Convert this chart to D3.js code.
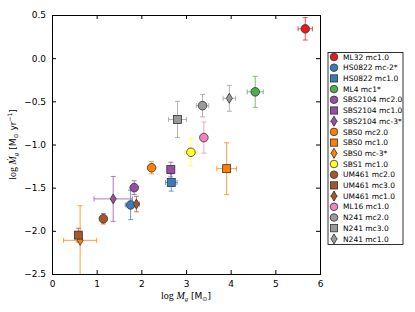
<!DOCTYPE html>
<html>
<head>
<meta charset="utf-8">
<script src="https://cdn.jsdelivr.net/npm/d3@7"></script>
<style>
  body { margin: 0; background: #fff; }
  text { font-family: "DejaVu Sans", sans-serif; }
  .axis-title { font-family: "Liberation Serif", serif; font-size: 10px; }
</style>
</head>
<body>
<svg id="chart"></svg>
<script>
// Data (log Mg, log Mdot) with symmetric errors
const labels = ['ML32 mc1.0', 'HS0822 mc-2*', 'HS0822 mc1.0', 'ML4 mc1*', 'SBS2104 mc2.0',
  'SBS2104 mc1.0', 'SBS2104 mc-3*', 'SBS0 mc2.0', 'SBS0 mc1.0', 'SBS0 mc-3*', 'SBS1 mc1.0',
  'UM461 mc2.0', 'UM461 mc3.0', 'UM461 mc1.0', 'ML16 mc1.0', 'N241 mc2.0', 'N241 mc3.0', 'N241 mc1.0'];
const logMg   = [5.67, 1.76, 2.67, 4.55, 1.84, 2.66, 1.37, 2.23, 3.91, 0.63, 3.11, 1.15, 0.59, 1.89, 3.40, 3.37, 2.81, 3.97];
const logMdot = [0.34, -1.70, -1.44, -0.39, -1.50, -1.29, -1.63, -1.27, -1.28, -2.11, -1.09, -1.86, -2.05, -1.69, -0.92, -0.55, -0.71, -0.465];
const xErr    = [0.16, 0.12, 0.13, 0.18, 0.05, 0.05, 0.43, 0.05, 0.22, 0.37, 0.14, 0.04, 0.04, 0.07, 0.05, 0.14, 0.20, 0.14];
const yErr    = [0.13, 0.17, 0.10, 0.18, 0.08, 0.085, 0.26, 0.07, 0.30, 0.40, 0.16, 0.06, 0.08, 0.09, 0.18, 0.13, 0.21, 0.15];
const xTicks = [0, 1, 2, 3, 4, 5, 6];
const yTicks = [-2.5, -2.0, -1.5, -1.0, -0.5, 0.0, 0.5];

// styles
const galaxyColor = {ML32: '#e41a1c', HS0822: '#377eb8', ML4: '#4daf4a', SBS2104: '#984ea3',
  SBS0: '#ff7f00', SBS1: '#ffff33', UM461: '#a65628', ML16: '#f781bf', N241: '#999999'};
const shapes = ['circle', 'circle', 'square', 'circle', 'circle', 'square', 'diamond', 'circle', 'square',
  'diamond', 'circle', 'circle', 'square', 'diamond', 'circle', 'circle', 'square', 'diamond'];

const data = labels.map((l, i) => ({
  label: l, x: logMg[i], y: logMdot[i], xe: xErr[i], ye: yErr[i],
  color: galaxyColor[l.split(' ')[0]], shape: shapes[i]
}));

const W = 415, H = 312;
const margin = {top: 15, right: 95, bottom: 38, left: 52};
const width = W - margin.left - margin.right;
const height = H - margin.top - margin.bottom;

const svg = d3.select('#chart').attr('width', W).attr('height', H);

svg.append('defs').append('clipPath').attr('id', 'clip')
  .append('rect').attr('width', width).attr('height', height);

const chart = svg.append('g').attr('transform', `translate(${margin.left},${margin.top})`);

const x = d3.scaleLinear().domain([0, 6]).range([0, width]);
const y = d3.scaleLinear().domain([-2.5, 0.5]).range([height, 0]);

const fmt = d => d3.format('.1f')(d).replace('-', '\u2212');

// axes, ticks pointing inward on all sides
const tick = 4;
chart.append('g').attr('transform', `translate(0,${height})`)
  .call(d3.axisBottom(x).tickValues(xTicks).tickFormat(d3.format('d')).tickSize(-tick).tickPadding(7));
chart.append('g')
  .call(d3.axisTop(x).tickValues(xTicks).tickFormat('').tickSize(-tick));
chart.append('g')
  .call(d3.axisLeft(y).tickValues(yTicks).tickFormat(fmt).tickSize(-tick).tickPadding(6));
chart.append('g').attr('transform', `translate(${width},0)`)
  .call(d3.axisRight(y).tickValues(yTicks).tickFormat('').tickSize(-tick));

chart.selectAll('.domain').attr('stroke', '#000');
chart.selectAll('.tick line').attr('stroke', '#000');
chart.selectAll('.tick text').attr('font-size', 9).attr('fill', '#000')
  .attr('font-family', '"DejaVu Sans", sans-serif');

// error bars
const eb = chart.append('g').attr('clip-path', 'url(#clip)');
const cap = 2.5;
data.forEach(d => {
  const g = eb.append('g').attr('stroke', d.color).attr('stroke-opacity', 0.75).attr('stroke-width', 1);
  const cx = x(d.x), cy = y(d.y);
  const x0 = x(d.x - d.xe), x1 = x(d.x + d.xe);
  const y0 = y(d.y - d.ye), y1 = y(d.y + d.ye);
  g.append('line').attr('x1', x0).attr('x2', x1).attr('y1', cy).attr('y2', cy);
  g.append('line').attr('x1', cx).attr('x2', cx).attr('y1', y0).attr('y2', y1);
  [x0, x1].forEach(v => g.append('line').attr('x1', v).attr('x2', v).attr('y1', cy - cap).attr('y2', cy + cap));
  [y0, y1].forEach(v => g.append('line').attr('x1', cx - cap).attr('x2', cx + cap).attr('y1', v).attr('y2', v));
});

function drawMarker(sel, shape, color) {
  if (shape === 'circle') {
    sel.append('circle').attr('r', 4.3);
  } else if (shape === 'square') {
    sel.append('rect').attr('x', -4).attr('y', -4).attr('width', 8).attr('height', 8);
  } else {
    sel.append('path').attr('d', 'M0,-5L3,0L0,5L-3,0Z');
  }
  sel.selectAll('*').attr('fill', color).attr('stroke', '#333').attr('stroke-width', 0.8);
}

const marks = chart.append('g');
data.forEach(d => {
  const g = marks.append('g').attr('transform', `translate(${x(d.x)},${y(d.y)})`);
  drawMarker(g, d.shape, d.color);
});

// axis titles
const xt = chart.append('text').attr('class', 'axis-title')
  .attr('x', width / 2).attr('y', height + 25).attr('text-anchor', 'middle');
xt.append('tspan').text('log ');
xt.append('tspan').attr('font-style', 'italic').text('M');
xt.append('tspan').attr('font-style', 'italic').attr('font-size', 7).attr('dy', 2).text('g');
xt.append('tspan').attr('dy', -2).attr('font-family', '"DejaVu Sans", sans-serif').attr('font-size', 9).text(' [M');
xt.append('tspan').attr('font-family', '"DejaVu Sans", sans-serif').attr('font-size', 6).attr('dy', 2).text('\u2299');
xt.append('tspan').attr('dy', -2).attr('font-family', '"DejaVu Sans", sans-serif').attr('font-size', 9).text(']');

const yt = chart.append('text').attr('class', 'axis-title')
  .attr('transform', `translate(${-36},${height / 2}) rotate(-90)`).attr('text-anchor', 'middle');
yt.append('tspan').text('log ');
yt.append('tspan').attr('font-style', 'italic').text('\u1E40');
yt.append('tspan').attr('font-style', 'italic').attr('font-size', 7).attr('dy', 2).text('g');
yt.append('tspan').attr('dy', -2).attr('font-family', '"DejaVu Sans", sans-serif').attr('font-size', 9).text(' [M');
yt.append('tspan').attr('font-family', '"DejaVu Sans", sans-serif').attr('font-size', 6).attr('dy', 2).text('\u2299');
yt.append('tspan').attr('dy', -2).attr('font-family', '"DejaVu Sans", sans-serif').attr('font-size', 9).text(' yr');
yt.append('tspan').attr('font-family', '"DejaVu Sans", sans-serif').attr('font-size', 6).attr('dy', -4).text('\u22121');
yt.append('tspan').attr('dy', 4).attr('font-family', '"DejaVu Sans", sans-serif').attr('font-size', 9).text(']');

// legend
const lg = svg.append('g').attr('transform', 'translate(328,52.5)');
const rowH = 10.7;
lg.append('rect').attr('width', 75).attr('height', 192)
  .attr('fill', '#fff').attr('stroke', '#000').attr('stroke-width', 0.8);
data.forEach((d, i) => {
  const row = lg.append('g').attr('transform', `translate(0,${4.5 + i * rowH})`);
  if (d.shape === 'diamond') {
    const e = row.append('g').attr('stroke', d.color).attr('stroke-opacity', 0.75);
    e.append('line').attr('x1', 2).attr('x2', 10).attr('y1', 0).attr('y2', 0);
    e.append('line').attr('x1', 6).attr('x2', 6).attr('y1', -5).attr('y2', 5);
  }
  const m = row.append('g').attr('transform', 'translate(6,0)');
  drawMarker(m, d.shape, d.color);
  m.selectAll('circle').attr('r', 3.8);
  m.selectAll('rect').attr('x', -3.6).attr('y', -3.6).attr('width', 7.2).attr('height', 7.2);
  row.append('text').attr('x', 15).attr('y', 0).attr('dy', '0.35em')
    .attr('font-size', 7.5).attr('fill', '#000').text(d.label);
});
</script>
</body>
</html>
